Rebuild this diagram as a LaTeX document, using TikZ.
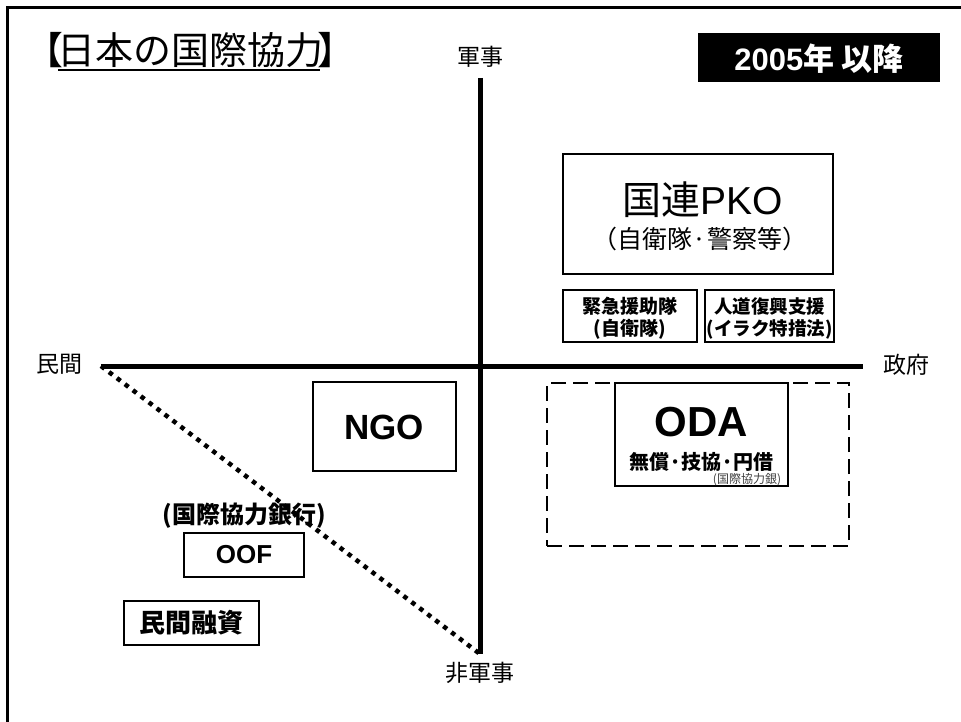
\documentclass[tikz,border=0pt]{standalone}
\usepackage{fontspec}
\setmainfont{Liberation Sans}
\newfontfamily\jp{Noto Sans CJK JP}
\newcommand{\fsz}[1]{\fontsize{#1}{#1}\selectfont}
\begin{document}
\begin{tikzpicture}[x=1pt,y=-1pt,
  box/.style={draw=black, line width=2.5pt, fill=white, rectangle, inner sep=0pt},
  dashbox/.style={draw=black, line width=2.5pt, dash pattern=on 15pt off 7pt, rectangle, inner sep=0pt},
  axis/.style={line width=5pt},
  dotline/.style={line width=4.5pt, dash pattern=on 4.5pt off 5.5pt},
  axislabel/.style={font=\jp\fsz{23}, inner sep=0pt},
  txt/.style={inner sep=0pt, align=center}]
\useasboundingbox (0,0) rectangle (961,722);
\fill[white] (0,0) rectangle (961,722);
% frame
\draw[line width=3pt] (7.5,722) -- (7.5,7.5) -- (961,7.5);
% title
\node[txt, font=\jp\fsz{38}] (title) at (190.5,50) {【\kern-0.15em 日本の国際協力\kern-0.15em】};
\draw[line width=2pt] (58,70) -- (320,70);
% year badge
\node[fill=black, minimum width=242pt, minimum height=49pt, inner sep=0pt] (year) at (819,57.5) {};
\node[txt, text=white, font=\fsz{31}\bfseries] (yeartxt) at (819,59) {2005{\jp 年 以降}};
% axes
\coordinate (L) at (101,366);
\coordinate (R) at (863,366);
\coordinate (T) at (480,78);
\coordinate (B) at (480,654);
\draw[axis] (L) -- (R);
\draw[axis] (T) -- (B);
\draw[dotline] (L) -- (B);
\node[axislabel] (min) at (59.5,364) {民間};
\node[axislabel] (sei) at (906,365) {政府};
\node[axislabel] (gun) at (480,57) {軍事};
\node[axislabel] (hig) at (480,673) {非軍事};
% dashed ODA area
\node[dashbox, minimum width=302pt, minimum height=163pt] (area) at (698,464.5) {};
% boxes
\node[box, minimum width=270pt, minimum height=120pt] (pko) at (698,214) {};
\node[txt, font=\fsz{39}] (pko1) at (703,200) {{\jp 国連}PKO};
\node[txt, font=\jp\fsz{25}] (pko2) at (700,239) {（自衛隊·警察等）};
\node[box, minimum width=134pt, minimum height=52pt] (kin) at (630,316) {};
\node[txt, font=\jp\bfseries\fontsize{19}{22}\selectfont] (kintxt) at (630,318) {緊急援助隊\\(自衛隊)};
\node[box, minimum width=129pt, minimum height=52pt] (jin) at (769.5,316) {};
\node[txt, font=\jp\bfseries\fontsize{18.5}{22}\selectfont] (jintxt) at (769.5,318) {人道復興支援\\(イラク特措法)};
\node[box, minimum width=143pt, minimum height=89pt] (ngo) at (384.5,426.5) {};
\node[txt, font=\fsz{35}\bfseries] (ngotxt) at (384,427.5) {NGO};
\node[box, minimum width=173pt, minimum height=103pt] (oda) at (701.5,434.5) {};
\node[txt, font=\fsz{42}\bfseries] (oda1) at (701.5,422) {ODA};
\node[txt, font=\jp\fsz{20}\bfseries] (oda2) at (701.5,462) {無償·技協·円借};
\node[txt, font=\jp\fsz{12}, text=black!75] (oda3) at (747,480) {(国際協力銀)};
\node[txt, font=\jp\fsz{24}\bfseries] (jbic) at (244,516) {(国際協力銀行)};
\node[box, minimum width=120pt, minimum height=44pt] (oof) at (244,555) {};
\node[txt, font=\fsz{26}\bfseries] (ooftxt) at (oof.center) {OOF};
\node[box, minimum width=135pt, minimum height=44pt] (priv) at (191.5,623) {};
\node[txt, font=\jp\fsz{26}\bfseries] (privtxt) at (priv.center) {民間融資};
\end{tikzpicture}
\end{document}
